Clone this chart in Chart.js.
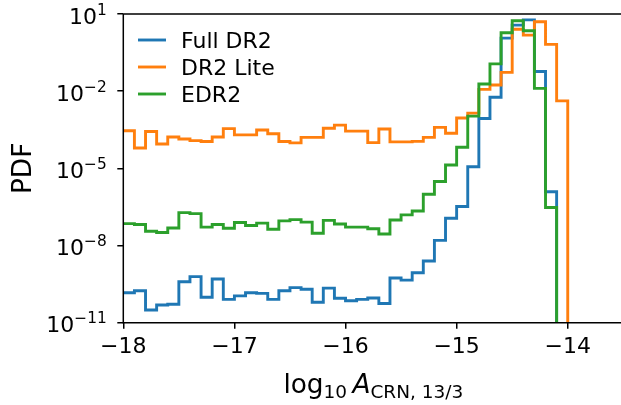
<!DOCTYPE html>
<html>
<head>
<meta charset="utf-8">
<script src="https://cdn.jsdelivr.net/npm/chart.js@4.4.1/dist/chart.umd.min.js"></script>
<style>
  html, body { margin: 0; padding: 0; background: #fff; overflow: hidden; width: 621px; height: 405px; }
  #wrap { position: relative; width: 630px; height: 405px; }
</style>
</head>
<body>
<div id="wrap"><canvas id="c" width="630" height="405"></canvas></div>
<script>
// Histogram bin edges in log10 A_CRN,13/3 (bin width 0.1)
const binEdges = [
  -18.0, -17.9, -17.8, -17.7, -17.6, -17.5, -17.4, -17.3, -17.2, -17.1,
  -17.0, -16.9, -16.8, -16.7, -16.6, -16.5, -16.4, -16.3, -16.2, -16.1,
  -16.0, -15.9, -15.8, -15.7, -15.6, -15.5, -15.4, -15.3, -15.2, -15.1,
  -15.0, -14.9, -14.8, -14.7, -14.6, -14.5, -14.4, -14.3, -14.2, -14.1,
  -14.0
];

// PDF per bin, one value for each bin between consecutive edges
const fullDR2 = [
  1.45e-10, 1.74e-10, 3.1e-11, 4.9e-11, 5.2e-11, 3.9e-10, 6.2e-10, 9.8e-11, 5.0e-10, 8.1e-11,
  1.1e-10, 1.45e-10, 1.38e-10, 8.1e-11, 1.74e-10, 2.3e-10, 2.0e-10, 6.2e-11, 2.2e-10, 8.9e-11,
  7.1e-11, 8.1e-11, 9.1e-11, 5.6e-11, 5.5e-10, 4.5e-10, 8.7e-10, 2.5e-9, 1.58e-8, 1.15e-7,
  3.3e-7, 1.15e-5, 8.7e-4, 5.8e-3, 1.15, 3.7, 5.9, 5.8e-2, 1.23e-6, 0
];
const dr2Lite = [
  2.9e-4, 6.2e-5, 2.7e-4, 8.9e-5, 1.66e-4, 1.38e-4, 1.2e-4, 1.1e-4, 1.66e-4, 3.5e-4,
  2.0e-4, 2.0e-4, 3.1e-4, 2.2e-4, 1.1e-4, 9.8e-5, 1.6e-4, 1.6e-4, 3.6e-4, 4.8e-4,
  2.8e-4, 2.8e-4, 1.0e-4, 3.4e-4, 1.07e-4, 1.07e-4, 1.12e-4, 1.6e-4, 3.9e-4, 2.3e-4,
  9.1e-4, 1.4e-3, 1.17e-2, 1.74e-2, 5.4e-2, 2.57, 1.51, 5.0, 0.66, 4.2e-3
];
const edr2 = [
  7.1e-8, 6.6e-8, 3.6e-8, 3.2e-8, 4.8e-8, 1.9e-7, 1.74e-7, 5.2e-8, 6.6e-8, 4.7e-8,
  7.9e-8, 6.0e-8, 7.4e-8, 4.3e-8, 9.1e-8, 1.02e-7, 8.1e-8, 3.0e-8, 9.5e-8, 6.9e-8,
  5.2e-8, 5.2e-8, 4.5e-8, 2.8e-8, 9.8e-8, 1.55e-7, 2.2e-7, 9.8e-7, 3.1e-6, 1.35e-5,
  6.6e-5, 1.07e-3, 1.9e-2, 0.115, 1.86, 5.5, 2.24, 1.29e-2, 3.0e-7, 0
];

const seriesNames = ['Full DR2', 'DR2 Lite', 'EDR2'];
const seriesColors = ['#1f77b4', '#ff7f0e', '#2ca02c'];

const xTicks = [-18, -17, -16, -15, -14];
const yTicks = [1e1, 1e-2, 1e-5, 1e-8, 1e-11];

const X_MIN = -18, X_MAX = -13.5;
const Y_MIN = 1e-11, Y_MAX = 1e1;
// empty bins are drawn far below the log-axis floor so the outline drops off the axis
const FLOOR = 1e-30;

const FONT = '"DejaVu Sans", sans-serif';
const TICK_SIZE = 22;
const LABEL_SIZE = 26.4;
const LINE_W = 2.9;

function stepOutline(values) {
  const pts = [];
  for (let i = 0; i < values.length; i++) {
    pts.push({ x: binEdges[i], y: values[i] > 0 ? values[i] : FLOOR });
  }
  const n = values.length;
  const last = values[n - 1];
  pts.push({ x: binEdges[n], y: last > 0 ? last : FLOOR });
  pts.push({ x: binEdges[n], y: FLOOR });
  return pts;
}

const datasets = [fullDR2, dr2Lite, edr2].map((vals, i) => ({
  label: seriesNames[i],
  data: stepOutline(vals),
  borderColor: seriesColors[i],
  backgroundColor: seriesColors[i],
  borderWidth: LINE_W,
  pointRadius: 0,
  fill: false,
  stepped: 'before',
  borderJoinStyle: 'miter',
  order: 2 - i
}));

// Axes frame drawn over the histogram outlines
const framePlugin = {
  id: 'frame',
  afterDatasetsDraw(chart) {
    const { ctx, chartArea: a } = chart;
    ctx.save();
    ctx.strokeStyle = '#000';
    ctx.lineWidth = 1.5;
    ctx.beginPath();
    ctx.moveTo(a.left, a.top); ctx.lineTo(a.right, a.top);
    ctx.lineTo(a.right, a.bottom); ctx.lineTo(a.left, a.bottom);
    ctx.closePath();
    ctx.stroke();
    ctx.restore();
  }
};

// Power-of-ten tick labels with raised exponents
const yLabelPlugin = {
  id: 'ylabels',
  afterDraw(chart) {
    const { ctx } = chart;
    const y = chart.scales.y;
    const right = chart.chartArea.left - 16.5;
    const baseFont = TICK_SIZE + 'px ' + FONT;
    const expFont = (TICK_SIZE * 0.7) + 'px ' + FONT;
    ctx.save();
    ctx.fillStyle = '#000';
    ctx.textBaseline = 'alphabetic';
    yTicks.forEach(v => {
      const py = y.getPixelForValue(v);
      const e = Math.round(Math.log10(v));
      const expText = (e < 0 ? '\u2212' : '') + Math.abs(e);
      ctx.font = expFont;
      const ew = ctx.measureText(expText).width;
      ctx.textAlign = 'left';
      ctx.fillText(expText, right - ew, py + 0.5);
      ctx.font = baseFont;
      ctx.textAlign = 'right';
      ctx.fillText('10', right - ew, py + 9.5);
    });
    ctx.restore();
  }
};

// Axis titles and legend
const annotatePlugin = {
  id: 'annotate',
  afterDraw(chart) {
    const { ctx, chartArea: a } = chart;
    ctx.save();
    ctx.fillStyle = '#000';

    // y title
    ctx.save();
    ctx.translate(31, (a.top + a.bottom) / 2);
    ctx.rotate(-Math.PI / 2);
    ctx.font = LABEL_SIZE + 'px ' + FONT;
    ctx.textAlign = 'center';
    ctx.textBaseline = 'alphabetic';
    ctx.fillText('PDF', 0, 0);
    ctx.restore();

    // x title: log10 A_CRN,13/3
    const sub = LABEL_SIZE * 0.7;
    const parts = [
      { t: 'log', font: LABEL_SIZE + 'px ' + FONT, dy: 0 },
      { t: '10', font: sub + 'px ' + FONT, dy: 5 },
      { t: '\u2009', font: LABEL_SIZE + 'px ' + FONT, dy: 0 },
      { t: 'A', font: 'italic ' + LABEL_SIZE + 'px ' + FONT, dy: 0 },
      { t: 'CRN, 13/3', font: sub + 'px ' + FONT, dy: 5 }
    ];
    let total = 0;
    parts.forEach(p => { ctx.font = p.font; p.w = ctx.measureText(p.t).width; total += p.w; });
    let x = (a.left + a.right) / 2 - total / 2;
    const base = 393;
    ctx.textAlign = 'left';
    ctx.textBaseline = 'alphabetic';
    parts.forEach(p => { ctx.font = p.font; ctx.fillText(p.t, x, base + p.dy); x += p.w; });

    // legend
    const lx0 = 138, lx1 = 166, tx = 181, ly0 = 40, dy = 27;
    chart.data.datasets.forEach((ds, i) => {
      const ly = ly0 + i * dy;
      ctx.strokeStyle = ds.borderColor;
      ctx.lineWidth = LINE_W;
      ctx.beginPath();
      ctx.moveTo(lx0, ly); ctx.lineTo(lx1, ly);
      ctx.stroke();
      ctx.font = TICK_SIZE + 'px ' + FONT;
      ctx.textBaseline = 'alphabetic';
      ctx.fillText(ds.label, tx, ly + 8);
    });
    ctx.restore();
  }
};

new Chart(document.getElementById('c'), {
  type: 'line',
  data: { datasets },
  options: {
    responsive: false,
    animation: false,
    devicePixelRatio: 1,
    layout: { padding: { top: 14, right: 6.7, bottom: 0, left: 0 } },
    plugins: { legend: { display: false }, tooltip: { enabled: false } },
    scales: {
      x: {
        type: 'linear',
        min: X_MIN, max: X_MAX,
        afterBuildTicks: s => { s.ticks = xTicks.map(v => ({ value: v })); },
        afterFit: s => { s.height = 82.3; },
        grid: { drawOnChartArea: false, drawTicks: true, tickLength: 6, color: '#000', lineWidth: 1.5 },
        border: { display: false },
        ticks: {
          autoSkip: false, maxRotation: 0,
          color: '#000', padding: 5,
          font: { family: 'DejaVu Sans', size: TICK_SIZE },
          callback: v => (v < 0 ? '\u2212' : '') + Math.abs(v)
        }
      },
      y: {
        type: 'logarithmic',
        min: Y_MIN, max: Y_MAX,
        afterBuildTicks: s => { s.ticks = yTicks.map(v => ({ value: v })); },
        afterFit: s => { s.width = 123.3; },
        grid: { drawOnChartArea: false, drawTicks: true, tickLength: 6, color: '#000', lineWidth: 1.5 },
        border: { display: false },
        ticks: { display: false }
      }
    }
  },
  plugins: [framePlugin, yLabelPlugin, annotatePlugin]
});
</script>
</body>
</html>
